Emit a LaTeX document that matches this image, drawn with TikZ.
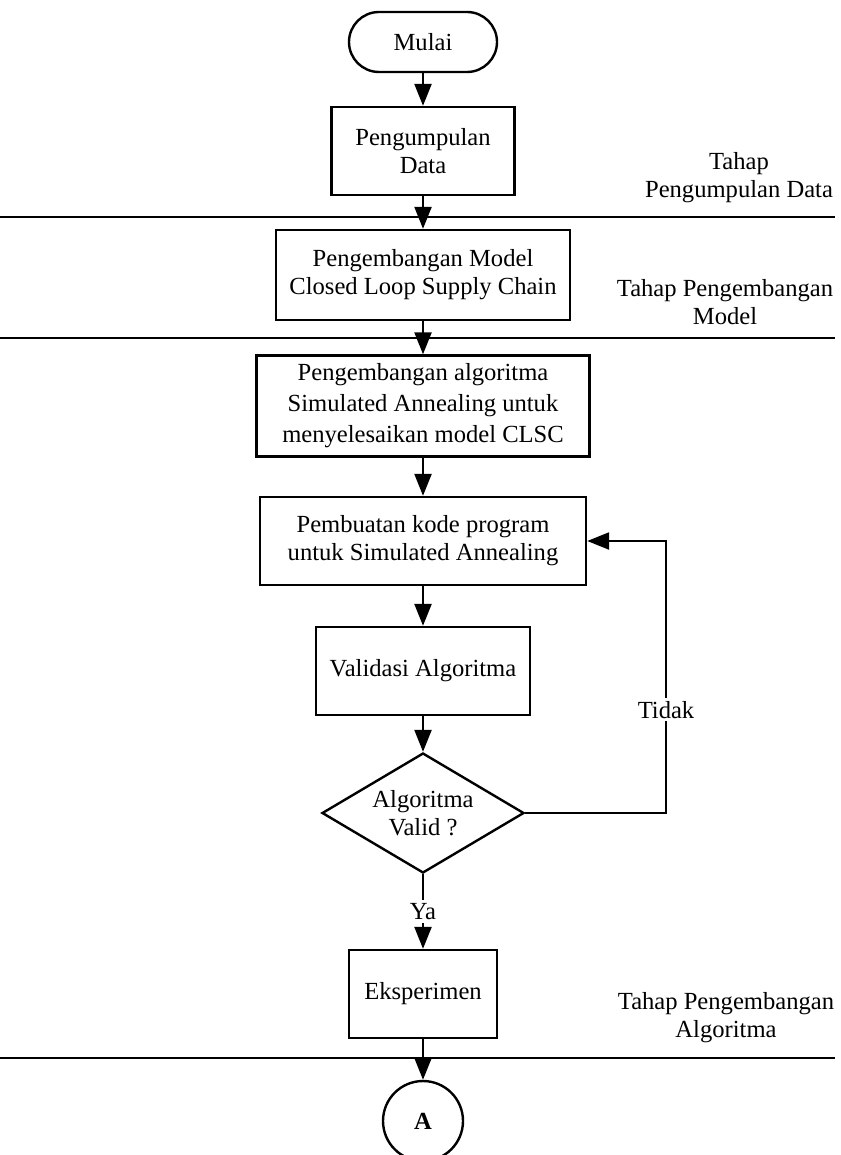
\documentclass[tikz,border=0pt]{standalone}
\usepackage{fontspec}
\setmainfont{Liberation Serif}
\usetikzlibrary{arrows.meta,shapes.geometric}
\begin{document}
\begin{tikzpicture}[x=0.5pt,y=-0.5pt,line width=1.2pt,font=\fontsize{12.3}{14}\selectfont,
kotak/.style={draw,rectangle,align=center,inner sep=0pt},
panah/.style={-{Triangle[length=11pt,width=8.5pt]}},
ket/.style={fill=white,inner sep=1.5pt}]
\useasboundingbox(0,0)rectangle(840,1155);
\node[draw,rounded corners=15pt,minimum width=74pt,minimum height=30pt](mulai)at(423,42){Mulai};
\node[kotak,minimum width=91.5pt,minimum height=44pt](data)at(423,151){Pengumpulan\\Data};
\node[kotak,minimum width=147pt,minimum height=45pt](model)at(423,275){Pengembangan Model\\Closed Loop Supply Chain};
\node[kotak,minimum width=166.5pt,minimum height=50.5pt](algo)at(423,406){Pengembangan algoritma\\[1.5pt]Simulated Annealing untuk\\[1.5pt]menyelesaikan model CLSC};
\node[kotak,minimum width=163pt,minimum height=44pt](kode)at(423,541){Pembuatan kode program\\untuk Simulated Annealing};
\node[kotak,minimum width=107pt,minimum height=44pt](valid)at(423,671){Validasi Algoritma};
\node[draw,diamond,align=center,inner sep=0pt,aspect=1.68,minimum width=101pt,minimum height=60pt](cek)at(423,813){Algoritma\\Valid ?};
\node[kotak,minimum width=74pt,minimum height=44pt](eks)at(423,994){Eksperimen};
\node[draw,circle,minimum size=40pt,inner sep=0pt,font=\fontsize{12.3}{14}\selectfont\bfseries](a)at(423,1121){A};
\node[align=center](tahapdata)at(739,178){Tahap\\Pengumpulan Data};
\node[align=center](tahapmodel)at(725,302){Tahap Pengembangan\\Model};
\node[align=center](tahapalgo)at(726,1018){Tahap Pengembangan\\Algoritma};
\draw(0,217)--(835,217);\draw(0,338)--(835,338);\draw(0,1058)--(835,1058);
\draw[panah](mulai)--(data);
\draw[panah](data)--(model);
\draw[panah](model)--(algo);
\draw[panah](algo)--(kode);
\draw[panah](kode)--(valid);
\draw[panah](valid)--(cek);
\draw[panah](cek)--node[ket]{Ya}(eks);
\draw[panah](eks)--(a);
\coordinate(putar)at(666,813);
\draw[panah](cek.east)--(putar)|-node[ket,pos=0.19]{Tidak}(kode.east);
\end{tikzpicture}
\end{document}
